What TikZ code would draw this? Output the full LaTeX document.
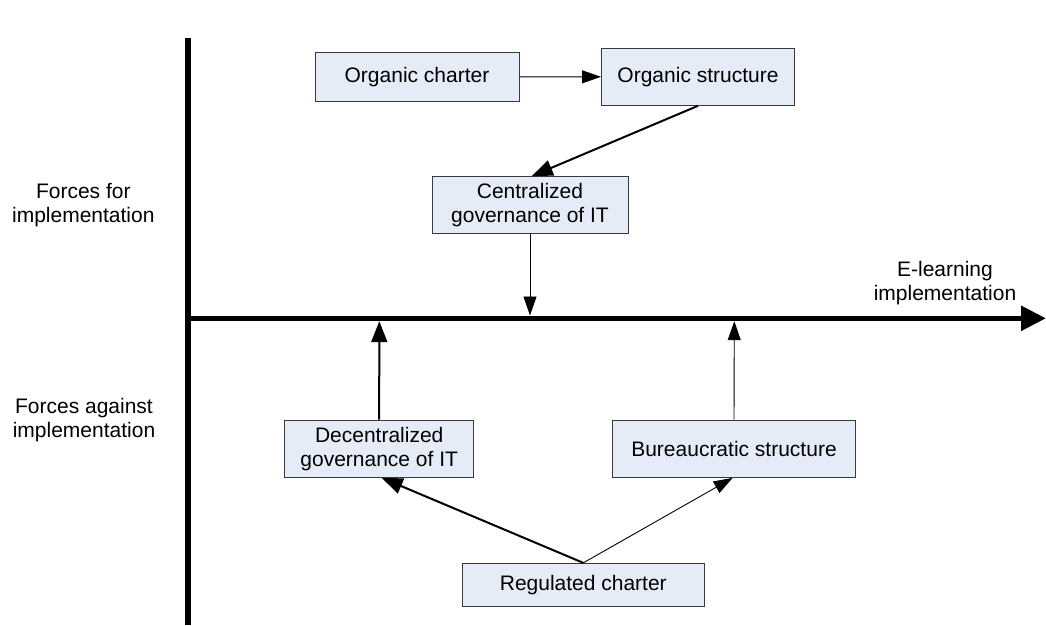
\documentclass[tikz,border=0pt]{standalone}
\usepackage{fontspec}
\setmainfont{Liberation Sans}
\usetikzlibrary{arrows.meta}
\definecolor{boxfill}{HTML}{E6ECF7}
\definecolor{boxline}{HTML}{3A3A3A}
\begin{document}
\begin{tikzpicture}[x=1pt,y=-1pt,
  every node/.style={font=\fontsize{21}{23.8}\selectfont, align=center, inner sep=0pt},
  box/.style={draw=boxline, fill=boxfill, line width=1pt},
  thin link/.style={line width=0.9pt, -{Triangle[length=19pt,width=13pt]}},
  thick link/.style={line width=2pt, -{Triangle[length=21pt,width=16pt]}},
  axis/.style={line width=5.5pt}
]
\useasboundingbox (0,0) rectangle (1046,625);

% axes
\coordinate (vtop) at (188,38);
\coordinate (vbot) at (188,625);
\coordinate (hleft) at (185.5,318.3);
\coordinate (hright) at (1046,318.3);
\draw[axis] (vtop) -- (vbot);
\draw[axis, -{Triangle[length=25pt,width=24pt]}] (hleft) -- (hright);

% side labels
\node (forcesfor) at (83.3,205) {Forces for\\implementation};
\node (forcesagainst) at (84,420) {Forces against\\implementation};
\node (elearn) at (945,283.3) {E-learning\\implementation};

% factor boxes
\node[box, minimum width=204pt, minimum height=48.3pt] (ocharter) at (417,76.9) {Organic charter};
\node[box, minimum width=193pt, minimum height=57pt] (ostruct) at (698,76.8) {Organic structure};
\node[box, minimum width=196pt, minimum height=57.3pt] (central) at (530,205.3) {Centralized\\governance of IT};
\node[box, minimum width=189pt, minimum height=57.3pt] (decentral) at (379.2,448.7) {Decentralized\\governance of IT};
\node[box, minimum width=242.6pt, minimum height=57.3pt] (bureau) at (734,448.7) {Bureaucratic structure};
\node[box, minimum width=242pt, minimum height=42.7pt] (regcharter) at (583.3,584.7) {Regulated charter};

% points where the forces meet the axis
\coordinate (ax1) at (530,315.5);
\coordinate (ax2) at (379.3,321.2);
\coordinate (ax3) at (734.3,321.2);

% connectors
\draw[thin link] (ocharter.east) -- (ostruct.west);
\draw[thick link] (ostruct.south) -- ([xshift=1.7pt]central.north);
\draw[thin link] (central.south) -- (ax1);
\draw[thick link] (decentral.north) -- (ax2);
\draw[thin link] (bureau.north) -- (ax3);
\draw[thick link] (regcharter.north) -- ([xshift=2.5pt]decentral.south);
\draw[thin link] (regcharter.north) -- ([xshift=-1.3pt]bureau.south);
\end{tikzpicture}
\end{document}
